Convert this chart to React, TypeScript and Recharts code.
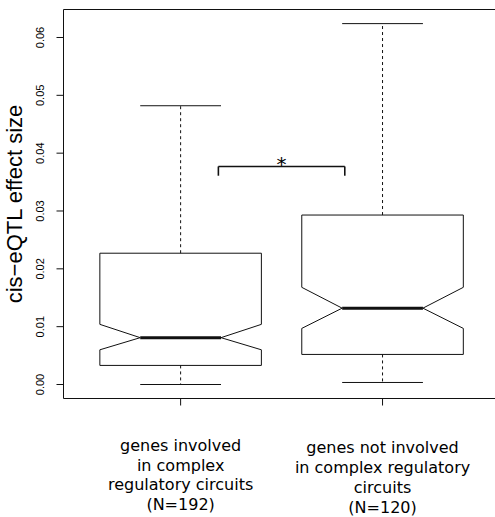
import React from 'react';
import { ComposedChart, XAxis, YAxis, ReferenceLine, ReferenceDot, Scatter } from 'recharts';

// ---- data ----
const groupPositions = [1, 2];
const lowerWhisker = [0.0, 0.00035];
const lowerQuartile = [0.0033, 0.0052];
const notchLower = [0.006, 0.0097];
const medians = [0.0081, 0.0132];
const notchUpper = [0.0104, 0.0168];
const upperQuartile = [0.0227, 0.0293];
const upperWhisker = [0.0482, 0.0624];
const yTicks = [0, 0.01, 0.02, 0.03, 0.04, 0.05, 0.06];
const xTickLabels = [
  ['genes involved', 'in complex', 'regulatory circuits', '(N=192)'],
  ['genes not involved', 'in complex regulatory', 'circuits', '(N=120)'],
];
const bracketX = [1.187, 1.813];
const bracketTop = 0.0377;
const bracketFoot = 0.0361;
const sigMark = '*';
const yTitle = 'cis\u2212eQTL effect size';

// ---- axis / geometry config ----
const X_DOMAIN: [number, number] = [0.42, 2.5569];
const Y_DOMAIN: [number, number] = [-0.00242, 0.06484];
const BOX_HALF = 0.4;
const NOTCH_HALF = 0.2;
const CAP_HALF = 0.2;
const INK = '#111';
const X_LABEL_SHIFT = [0, 2.6];

type Seg = { a: [number, number]; b: [number, number]; dash?: string; w?: number };

function boxSegments(i: number): Seg[] {
  const c = groupPositions[i];
  const L = c - BOX_HALF, R = c + BOX_HALF;
  const nl = c - NOTCH_HALF, nr = c + NOTCH_HALF;
  const q1 = lowerQuartile[i], q3 = upperQuartile[i];
  const nLo = notchLower[i], nHi = notchUpper[i], med = medians[i];
  const pts: [number, number][] = [
    [L, q3], [R, q3], [R, nHi], [nr, med], [R, nLo], [R, q1],
    [L, q1], [L, nLo], [nl, med], [L, nHi], [L, q3],
  ];
  const segs: Seg[] = [];
  for (let k = 0; k < pts.length - 1; k++) segs.push({ a: pts[k], b: pts[k + 1] });
  segs.push({ a: [nl, med], b: [nr, med], w: 3 });
  segs.push({ a: [c, q3], b: [c, upperWhisker[i]], dash: '3 3' });
  segs.push({ a: [c, q1], b: [c, lowerWhisker[i]], dash: '3 3' });
  segs.push({ a: [c - CAP_HALF, upperWhisker[i]], b: [c + CAP_HALF, upperWhisker[i]] });
  segs.push({ a: [c - CAP_HALF, lowerWhisker[i]], b: [c + CAP_HALF, lowerWhisker[i]] });
  return segs;
}

const bracketSegs: Seg[] = [
  { a: [bracketX[0], bracketTop], b: [bracketX[1], bracketTop], w: 1.6 },
  { a: [bracketX[0], bracketTop], b: [bracketX[0], bracketFoot], w: 1.6 },
  { a: [bracketX[1], bracketTop], b: [bracketX[1], bracketFoot], w: 1.6 },
];

const allSegs: Seg[] = [...boxSegments(0), ...boxSegments(1), ...bracketSegs];

const scatterData = groupPositions.map((x, i) => ({ x, median: medians[i] }));

const YTick = (props: any) => {
  const { x, y, payload } = props;
  return (
    <text
      x={x}
      y={y}
      transform={`rotate(-90, ${x}, ${y})`}
      textAnchor="middle"
      fontSize={11}
      fontFamily="Liberation Sans, Arial, sans-serif"
      fill="#000"
    >
      {Number(payload.value).toFixed(2)}
    </text>
  );
};

const XTick = (props: any) => {
  const { x, y, payload } = props;
  const idx = groupPositions.indexOf(payload.value);
  const lines = xTickLabels[idx] || [];
  const base = y + 43.2 + (X_LABEL_SHIFT[idx] || 0);
  return (
    <g>
      {lines.map((ln, k) => (
        <text
          key={k}
          x={x}
          y={base + 19.8 * k}
          textAnchor="middle"
          fontSize={16}
          fontFamily="DejaVu Sans, sans-serif"
          fill="#000"
        >
          {ln}
        </text>
      ))}
    </g>
  );
};

const YTitle = (props: any) => {
  const vb = props.viewBox || { x: 0, y: 0, width: 0, height: 0 };
  const cx = vb.x + 22;
  const cy = vb.y + vb.height / 2;
  return (
    <text
      x={cx}
      y={cy}
      transform={`rotate(-90, ${cx}, ${cy})`}
      textAnchor="middle"
      fontSize={22}
      fontFamily="Liberation Sans, Arial, sans-serif"
      fill="#000"
    >
      {yTitle}
    </text>
  );
};

const StarShape = (props: any) => {
  const { cx, cy } = props;
  return (
    <text x={cx} y={cy + 5} textAnchor="middle" fontSize={20} fontFamily="DejaVu Sans, sans-serif" fill="#000">
      {sigMark}
    </text>
  );
};

export default function App() {
  return (
    <div style={{ position: 'absolute', left: 0, top: 0, background: '#fff' }}>
      <ComposedChart
        width={495}
        height={517}
        data={scatterData}
        margin={{ top: 9.5, right: 0, bottom: 0, left: 0 }}
      >
        <XAxis
          type="number"
          dataKey="x"
          domain={X_DOMAIN}
          allowDataOverflow
          ticks={groupPositions}
          interval={0}
          tickSize={7}
          tickMargin={2}
          height={118.5}
          stroke={INK}
          tick={<XTick />}
        />
        <YAxis
          type="number"
          domain={Y_DOMAIN}
          allowDataOverflow
          ticks={yTicks}
          interval={0}
          tickSize={7}
          tickMargin={12.5}
          width={63.5}
          stroke={INK}
          tick={<YTick />}
          label={YTitle}
        />
        <ReferenceLine y={Y_DOMAIN[1]} stroke={INK} strokeWidth={1} ifOverflow="extendDomain" />
        {allSegs.map((s, k) => (
          <ReferenceLine
            key={k}
            segment={[{ x: s.a[0], y: s.a[1] }, { x: s.b[0], y: s.b[1] }]}
            stroke={INK}
            strokeWidth={s.w || 1}
            strokeDasharray={s.dash}
            ifOverflow="visible"
          />
        ))}
        <ReferenceDot
          x={(bracketX[0] + bracketX[1]) / 2}
          y={bracketTop}
          r={1}
          ifOverflow="visible"
          shape={<StarShape />}
        />
        <Scatter dataKey="median" isAnimationActive={false} shape={() => <g />} legendType="none" />
      </ComposedChart>
    </div>
  );
}
